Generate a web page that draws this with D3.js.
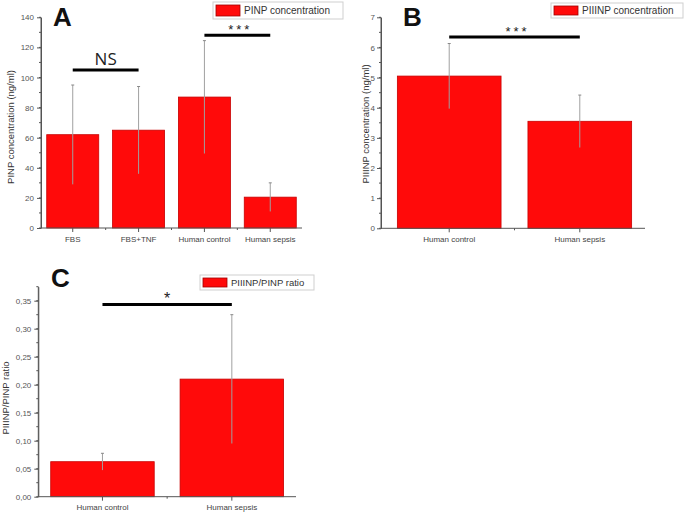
<!DOCTYPE html>
<html>
<head>
<meta charset="utf-8">
<script src="https://cdn.jsdelivr.net/npm/d3@7"></script>
<style>
  html, body { margin: 0; padding: 0; background: #fff; }
  svg { display: block; }
</style>
</head>
<body>
<svg id="chart" width="685" height="513"></svg>
<script>
// ---------- Data ----------
const categoriesA = ["FBS", "FBS+TNF", "Human control", "Human sepsis"];
const valuesA = [62, 65, 87, 20.5];
const errorsA = [33, 29, 37.5, 9.5];
const ticksA = [0, 20, 40, 60, 80, 100, 120, 140];
const legendA = "PINP concentration";
const yLabelA = "PINP concentration (ng/ml)";

const categoriesB = ["Human control", "Human sepsis"];
const valuesB = [5.05, 3.55];
const errorsB = [1.08, 0.87];
const ticksB = [0, 1, 2, 3, 4, 5, 6, 7];
const legendB = "PIIINP concentration";
const yLabelB = "PIIINP concentration (ng/ml)";

const categoriesC = ["Human control", "Human sepsis"];
const valuesC = [0.0625, 0.21];
const errorsC = [0.015, 0.115];
const ticksC = [0, 0.05, 0.10, 0.15, 0.20, 0.25, 0.30, 0.35];
const legendC = "PIIINP/PINP ratio";
const yLabelC = "PIIINP/PINP ratio";

const sigA = [{ from: "FBS", to: "FBS+TNF", level: 105, text: "NS", big: true },
              { from: "Human control", to: "Human sepsis", level: 128, text: "***" }];
const sigB = [{ from: "Human control", to: "Human sepsis", level: 6.35, text: "***" }];
const sigC = [{ from: "Human control", to: "Human sepsis", level: 0.343, text: "*" }];

// ---------- Drawing ----------
const svg = d3.select("#chart");
const FONT = "'Liberation Sans', Arial, sans-serif";

function drawPanel(cfg) {
  const g = svg.append("g");
  const x = d3.scaleBand().domain(cfg.categories).range(cfg.xRange)
    .paddingInner(cfg.padInner).paddingOuter(cfg.padOuter);
  const y = d3.scaleLinear().domain(cfg.yDomain).range(cfg.yRange);
  const y0 = y(0);

  // bars
  g.selectAll("rect.bar").data(cfg.values).enter().append("rect")
    .attr("x", (d, i) => x(cfg.categories[i]))
    .attr("y", d => y(d))
    .attr("width", x.bandwidth())
    .attr("height", d => y0 - y(d))
    .attr("fill", "#ff0a0a")
    .attr("stroke", "#c80000")
    .attr("stroke-width", 0.8);

  // error bars
  cfg.values.forEach((v, i) => {
    const cx = x(cfg.categories[i]) + x.bandwidth() / 2;
    const e = cfg.errors[i];
    g.append("line").attr("x1", cx).attr("x2", cx)
      .attr("y1", y(v + e)).attr("y2", y(v - e))
      .attr("stroke", "#a0a0a0").attr("stroke-width", 1);
    g.append("line").attr("x1", cx - 1.5).attr("x2", cx + 1.5)
      .attr("y1", y(v + e)).attr("y2", y(v + e))
      .attr("stroke", "#888").attr("stroke-width", 1);
  });

  // y axis
  const yAxis = d3.axisLeft(y).tickValues(cfg.ticks).tickSize(4).tickSizeOuter(0)
    .tickFormat(cfg.fmt);
  const ya = g.append("g").attr("transform", `translate(${cfg.xAxisStart},0)`).call(yAxis);
  ya.select(".domain").attr("stroke", "#555");
  ya.selectAll(".tick line").attr("stroke", "#555");
  ya.selectAll(".tick text").attr("font-family", FONT).attr("font-size", 8)
    .attr("fill", "#555").attr("x", -cfg.labelGap);
  // minor y ticks
  const minor = d3.range(cfg.yDomain[0], cfg.yDomain[1] + 1e-9, cfg.minorStep);
  g.selectAll("line.minor").data(minor).enter().append("line")
    .attr("x1", cfg.xAxisStart - 2).attr("x2", cfg.xAxisStart)
    .attr("y1", d => y(d)).attr("y2", d => y(d))
    .attr("stroke", "#555").attr("stroke-width", 1);
  // extend axis to top of domain
  g.append("line").attr("x1", cfg.xAxisStart).attr("x2", cfg.xAxisStart)
    .attr("y1", y(cfg.yDomain[1])).attr("y2", y0).attr("stroke", "#555");

  // x axis
  g.append("line").attr("x1", cfg.xAxisStart).attr("x2", cfg.xAxisEnd)
    .attr("y1", y0).attr("y2", y0).attr("stroke", "#555");
  const xa = d3.axisBottom(x).tickSize(4).tickSizeOuter(0);
  const xg = g.append("g").attr("transform", `translate(0,${y0})`).call(xa);
  xg.select(".domain").remove();
  xg.selectAll(".tick line").attr("stroke", "#555");
  xg.selectAll(".tick text").attr("font-family", FONT).attr("font-size", 8)
    .attr("fill", "#444").attr("y", 8);
  // minor x ticks between categories
  for (let i = 0; i < cfg.categories.length - 1; i++) {
    const mx = x(cfg.categories[i]) + x.bandwidth() / 2 + x.step() / 2;
    g.append("line").attr("x1", mx).attr("x2", mx).attr("y1", y0).attr("y2", y0 + 2)
      .attr("stroke", "#555");
  }

  // y label
  g.append("text")
    .attr("transform", `translate(${cfg.yLabelX},${cfg.yLabelY}) rotate(-90)`)
    .attr("text-anchor", "middle").attr("font-family", FONT).attr("font-size", 9.5)
    .attr("fill", "#333").text(cfg.yLabel);

  // panel letter
  g.append("text").attr("x", cfg.letterX).attr("y", cfg.letterY)
    .attr("font-family", FONT).attr("font-weight", "bold")
    .attr("font-size", 26).attr("fill", "#111").text(cfg.letter);

  // legend
  const lg = g.append("g");
  lg.append("rect").attr("x", cfg.legend.x).attr("y", cfg.legend.y)
    .attr("width", cfg.legend.w).attr("height", cfg.legend.h)
    .attr("fill", "#fff").attr("stroke", "#cfcfcf").attr("stroke-width", 1);
  lg.append("rect").attr("x", cfg.legend.x + 3).attr("y", cfg.legend.y + 3)
    .attr("width", 24).attr("height", cfg.legend.h - 6)
    .attr("fill", "#ff0a0a").attr("stroke", "#a00000").attr("stroke-width", 0.8);
  lg.append("text").attr("x", cfg.legend.x + 31).attr("y", cfg.legend.y + cfg.legend.h / 2 + 3.5)
    .attr("font-family", FONT).attr("font-size", cfg.legend.fs).attr("fill", "#333")
    .text(cfg.legendText);

  // significance bars
  cfg.sig.forEach(s => {
    const x1 = x(s.from) + x.bandwidth() / 2;
    const x2 = x(s.to) + x.bandwidth() / 2;
    const ly = y(s.level);
    g.append("line").attr("x1", x1).attr("x2", x2).attr("y1", ly).attr("y2", ly)
      .attr("stroke", "#000").attr("stroke-width", 3);
    if (s.big) {
      g.append("text").attr("x", (x1 + x2) / 2).attr("y", ly - 5)
        .attr("text-anchor", "middle").attr("font-family", "'Open Sans', sans-serif")
        .attr("font-size", 17).attr("fill", "#222").text(s.text);
    } else {
      g.append("text").attr("x", (x1 + x2) / 2 + cfg.starDx).attr("y", ly - 1)
        .attr("text-anchor", "middle").attr("font-family", FONT)
        .attr("font-size", cfg.starSize).attr("letter-spacing", cfg.starSpacing)
        .attr("fill", "#222").text(s.text);
    }
  });
}

drawPanel({
  categories: categoriesA, values: valuesA, errors: errorsA, ticks: ticksA,
  xRange: [41, 302], padInner: 0.21, padOuter: 0.087, xAxisStart: 41, xAxisEnd: 302,
  yDomain: [0, 140], yRange: [228, 17.3], minorStep: 10, fmt: d3.format("d"), labelGap: 7,
  yLabel: yLabelA, yLabelX: 14, yLabelY: 127,
  letter: "A", letterX: 53, letterY: 26,
  legend: { x: 213, y: 2, w: 130, h: 17, fs: 10 }, legendText: legendA,
  sig: sigA, starSize: 13, starSpacing: 3, starDx: 3
});

drawPanel({
  categories: categoriesB, values: valuesB, errors: errorsB, ticks: ticksB,
  xRange: [383, 646], padInner: 0.206, padOuter: 0.11, xAxisStart: 381, xAxisEnd: 645,
  yDomain: [0, 7], yRange: [228.3, 17.3], minorStep: 0.5, fmt: d3.format("d"), labelGap: 6,
  yLabel: yLabelB, yLabelX: 369, yLabelY: 124,
  letter: "B", letterX: 403, letterY: 26,
  legend: { x: 551, y: 3, w: 132, h: 15, fs: 10 }, legendText: legendB,
  sig: sigB, starSize: 13, starSpacing: 3, starDx: 3
});

drawPanel({
  categories: categoriesC, values: valuesC, errors: errorsC, ticks: ticksC,
  xRange: [38.3, 296], padInner: 0.2, padOuter: 0.096, xAxisStart: 38.3, xAxisEnd: 296,
  yDomain: [0, 0.375], yRange: [496.7, 286.7], minorStep: 0.025,
  fmt: d => d3.format(".2f")(d).replace(".", ","), labelGap: 7,
  yLabel: yLabelC, yLabelX: 9, yLabelY: 398,
  letter: "C", letterX: 51, letterY: 287,
  legend: { x: 200, y: 275, w: 114, h: 15, fs: 9.5 }, legendText: legendC,
  sig: sigC, starSize: 16, starSpacing: 0, starDx: 0
});
</script>
</body>
</html>
